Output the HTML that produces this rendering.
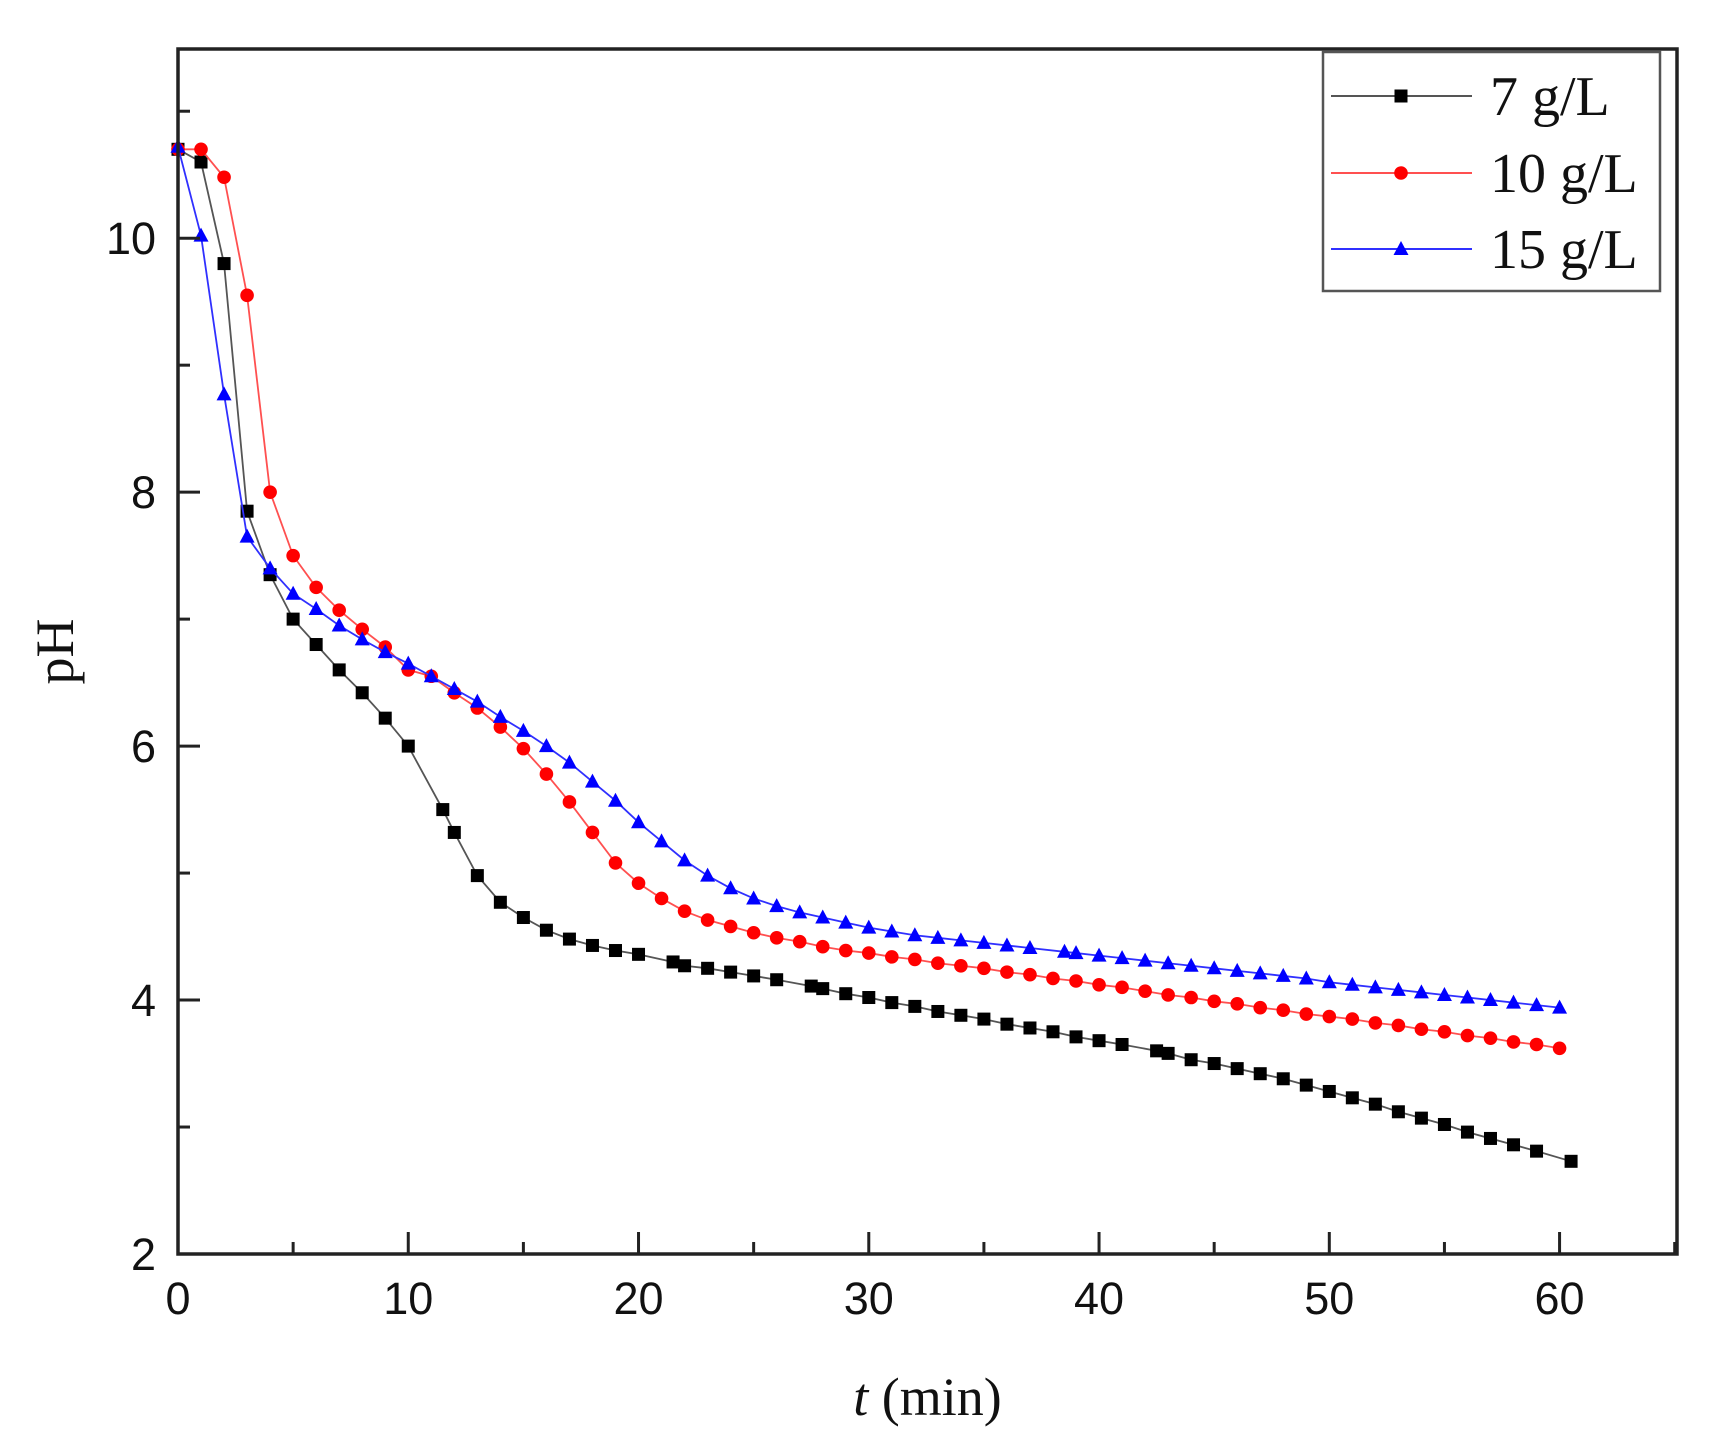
<!DOCTYPE html>
<html><head><meta charset="utf-8">
<style>
html,body{margin:0;padding:0;background:#fff;}
svg{display:block;}
</style></head>
<body>
<svg id="chart" width="1714" height="1444" viewBox="0 0 1714 1444" xmlns="http://www.w3.org/2000/svg">
<rect x="0" y="0" width="1714" height="1444" fill="#fff"/>
<g id="series"></g>
<g id="axes"></g>
<g id="legend"></g>
</svg>
<script>
const tBlack=[0,1,2,3,4,5,6,7,8,9,10,11.5,12,13,14,15,16,17,18,19,20,21.5,22,23,24,25,26,27.5,28,29,30,31,32,33,34,35,36,37,38,39,40,41,42.5,43,44,45,46,47,48,49,50,51,52,53,54,55,56,57,58,59,60.5];
const phBlack=[10.7,10.6,9.8,7.85,7.35,7.0,6.8,6.6,6.42,6.22,6.0,5.5,5.32,4.98,4.77,4.65,4.55,4.48,4.43,4.39,4.36,4.3,4.27,4.25,4.22,4.19,4.16,4.11,4.09,4.05,4.02,3.98,3.95,3.91,3.88,3.85,3.81,3.78,3.75,3.71,3.68,3.65,3.6,3.58,3.53,3.5,3.46,3.42,3.38,3.33,3.28,3.23,3.18,3.12,3.07,3.02,2.96,2.91,2.86,2.81,2.73];
const tRed=[0,1,2,3,4,5,6,7,8,9,10,11,12,13,14,15,16,17,18,19,20,21,22,23,24,25,26,27,28,29,30,31,32,33,34,35,36,37,38,39,40,41,42,43,44,45,46,47,48,49,50,51,52,53,54,55,56,57,58,59,60];
const phRed=[10.7,10.7,10.48,9.55,8.0,7.5,7.25,7.07,6.92,6.78,6.6,6.55,6.42,6.3,6.15,5.98,5.78,5.56,5.32,5.08,4.92,4.8,4.7,4.63,4.58,4.53,4.49,4.46,4.42,4.39,4.37,4.34,4.32,4.29,4.27,4.25,4.22,4.2,4.17,4.15,4.12,4.1,4.07,4.04,4.02,3.99,3.97,3.94,3.92,3.89,3.87,3.85,3.82,3.8,3.77,3.75,3.72,3.7,3.67,3.65,3.62];
const tBlue=[0,1,2,3,4,5,6,7,8,9,10,11,12,13,14,15,16,17,18,19,20,21,22,23,24,25,26,27,28,29,30,31,32,33,34,35,36,37,38.5,39,40,41,42,43,44,45,46,47,48,49,50,51,52,53,54,55,56,57,58,59,60];
const phBlue=[10.72,10.02,8.77,7.65,7.4,7.2,7.08,6.95,6.84,6.74,6.65,6.55,6.45,6.35,6.23,6.12,6.0,5.87,5.72,5.57,5.4,5.25,5.1,4.98,4.88,4.8,4.74,4.69,4.65,4.61,4.57,4.54,4.51,4.49,4.47,4.45,4.43,4.41,4.38,4.37,4.35,4.33,4.31,4.29,4.27,4.25,4.23,4.21,4.19,4.17,4.14,4.12,4.1,4.08,4.06,4.04,4.02,4.0,3.98,3.96,3.94];
const xTicks=[0,10,20,30,40,50,60];
const yTicks=[2,4,6,8,10];
const seriesNames=["7 g/L","10 g/L","15 g/L"];

const NS="http://www.w3.org/2000/svg";
const X0=178,X1=1677,Y0=1254,Y1=49,XMAX=65.1,YMIN=2,YMAX=11.49;
function sx(t){return X0+(t/XMAX)*(X1-X0);}
function sy(v){return Y0-(v-YMIN)/(YMAX-YMIN)*(Y0-Y1);}
function mk(tag,attrs,parent){const e=document.createElementNS(NS,tag);for(const k in attrs)e.setAttribute(k,attrs[k]);parent.appendChild(e);return e;}
const axes=document.getElementById('axes'),series=document.getElementById('series'),legend=document.getElementById('legend');

function marker(kind,x,y,color,parent){
  let e;
  if(kind==='square'){e=mk('rect',{x:x-6.5,y:y-6.5,width:13,height:13,fill:color},parent);}
  else if(kind==='circle'){e=mk('circle',{cx:x,cy:y,r:6.8,fill:color},parent);}
  else {e=mk('polygon',{points:`${x},${y-8} ${x+7.5},${y+6} ${x-7.5},${y+6}`,fill:color},parent);}
  return e;
}
const defs=[[tBlack,phBlack,'#000','#555','square','series-7gL'],[tRed,phRed,'#ff0000','#ff5050','circle','series-10gL'],[tBlue,phBlue,'#0000ff','#3030ff','triangle','series-15gL']];
defs.forEach(([ts,vs,col,lc,kind,name])=>{
  const g=mk('g',{},series);
  
  
  const pts=ts.map((t,i)=>sx(t)+','+sy(vs[i])).join(' ');
  const pl=mk('polyline',{points:pts,fill:'none',stroke:lc,'stroke-width':1.8},g);
  
  
  ts.forEach((t,i)=>{
    const m=marker(kind,sx(t),sy(vs[i]),col,g);
    
    
  });
});

const frame=mk('rect',{x:X0,y:Y1,width:X1-X0,height:Y0-Y1,fill:'none',stroke:'#222','stroke-width':3.5},axes);


for(let t=0;t<=65;t+=5){
  const major=t%10===0;
  const tk=mk('line',{x1:sx(t),x2:sx(t),y1:Y0,y2:Y0-(major?22:12),stroke:'#222','stroke-width':3},axes);
  
  
}
xTicks.forEach(t=>{
  const tx=mk('text',{x:sx(t),y:Y0+60,'text-anchor':'middle','font-family':'Liberation Sans, sans-serif','font-size':45,fill:'#111'},axes);
  tx.textContent=t;
  
  
});
for(let v=2;v<=11;v+=1){
  const major=v%2===0;
  const tk=mk('line',{x1:X0,x2:X0+(major?22:12),y1:sy(v),y2:sy(v),stroke:'#222','stroke-width':3},axes);
  
  
}
yTicks.forEach(v=>{
  const tx=mk('text',{x:X0-22,y:sy(v)+16,'text-anchor':'end','font-family':'Liberation Sans, sans-serif','font-size':45,fill:'#111'},axes);
  tx.textContent=v;
  
  
});
const xt=mk('text',{x:(sx(0)+sx(65.1))/2,y:1415,'text-anchor':'middle','font-family':'Liberation Serif, serif','font-size':54,fill:'#111'},axes);
xt.innerHTML='<tspan font-style="italic">t</tspan> (min)';


const yt=mk('text',{x:0,y:0,'text-anchor':'middle','font-family':'Liberation Serif, serif','font-size':54,fill:'#111',transform:`translate(73,${(Y0+Y1)/2}) rotate(-90)`},axes);
yt.textContent='pH';



const lb=mk('rect',{x:1323,y:52,width:337,height:239,fill:'#fff',stroke:'#555','stroke-width':2.5},legend);


const ly=[96,173,249];
defs.forEach(([ts,vs,col,lc,kind,name],i)=>{
  const g=mk('g',{},legend);
  
  
  mk('line',{x1:1331,x2:1472,y1:ly[i],y2:ly[i],stroke:lc,'stroke-width':2},g);
  marker(kind,1401,ly[i],col,g);
  const tx=mk('text',{x:1490,y:ly[i]+19,'font-family':'Liberation Serif, serif','font-size':56,fill:'#111'},g);
  tx.textContent=seriesNames[i];
});
</script>
</body></html>
